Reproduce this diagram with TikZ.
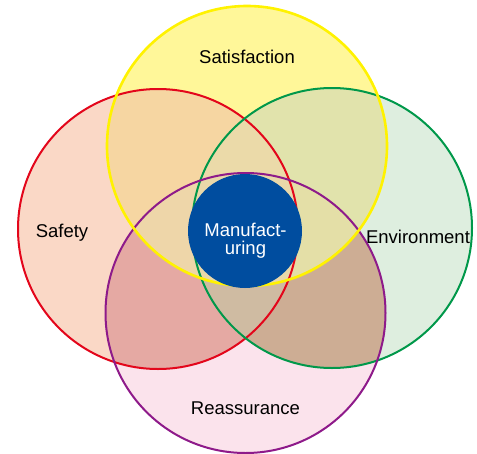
\documentclass[tikz,border=0pt]{standalone}
\usepackage{fontspec}
\setmainfont{Liberation Sans}
\usetikzlibrary{positioning}
% single regions
\definecolor{satisfactionfill}{HTML}{FFF799}
\definecolor{safetyfill}{HTML}{FAD8C6}
\definecolor{environmentfill}{HTML}{DEEEDF}
\definecolor{reassurancefill}{HTML}{FBE3EC}
% overlaps
\definecolor{satsafefill}{HTML}{F6D6A2}
\definecolor{satenvfill}{HTML}{E1E3AC}
\definecolor{satreafill}{HTML}{EED6A8}
\definecolor{safeenvfill}{HTML}{EBDAA9}
\definecolor{safereafill}{HTML}{E5A9A3}
\definecolor{envreafill}{HTML}{CDAD94}
\definecolor{satsafeenvfill}{HTML}{EBDAA9}
\definecolor{satsafereafill}{HTML}{EED6A9}
\definecolor{satenvreafill}{HTML}{E4DFA7}
\definecolor{safeenvreafill}{HTML}{CFBBA2}
\definecolor{allfill}{HTML}{E9D8A9}
% rims
\definecolor{satisfactionline}{HTML}{FFF200}
\definecolor{safetyline}{HTML}{E3061B}
\definecolor{environmentline}{HTML}{00984A}
\definecolor{reassuranceline}{HTML}{8E1A8A}
\definecolor{hubfill}{HTML}{004D9F}
\newcommand{\vennr}{140}
\tikzset{
  label text/.style={font=\fontsize{18.5}{18}\selectfont, text=black, inner sep=0pt, anchor=base},
  ring/.style={line width=2pt},
}

\begin{document}
\begin{tikzpicture}[x=1pt, y=-1pt]
    \useasboundingbox (0,0) rectangle (477,453);

    % centres
    \coordinate (satisfaction) at (247,146);
    \coordinate (safety) at (158,229);
    \coordinate (environment) at (332,228);
    \coordinate (reassurance) at (245.5,313);
    \coordinate (hub) at (245,231);

    % Single circles
    \foreach \c in {safety, environment, reassurance, satisfaction}
        \fill[\c fill] (\c) circle[radius=\vennr];

    % Pairs
    \foreach \a/\b/\f in {satisfaction/safety/satsafe, satisfaction/environment/satenv,
                          satisfaction/reassurance/satrea, safety/environment/safeenv,
                          safety/reassurance/saferea, environment/reassurance/envrea} {
        \begin{scope}
            \clip (\a) circle[radius=\vennr];
            \fill[\f fill] (\b) circle[radius=\vennr];
        \end{scope}
    }

    % Triples
    \foreach \a/\b/\c/\f in {satisfaction/safety/environment/satsafeenv,
                             satisfaction/safety/reassurance/satsaferea,
                             satisfaction/environment/reassurance/satenvrea,
                             safety/environment/reassurance/safeenvrea} {
        \begin{scope}
            \clip (\a) circle[radius=\vennr];
            \clip (\b) circle[radius=\vennr];
            \fill[\f fill] (\c) circle[radius=\vennr];
        \end{scope}
    }

    % All four
    \begin{scope}
        \clip (satisfaction) circle[radius=\vennr];
        \clip (safety) circle[radius=\vennr];
        \clip (environment) circle[radius=\vennr];
        \fill[allfill] (reassurance) circle[radius=\vennr];
    \end{scope}

    % Rims
    \foreach \c in {safety, environment, reassurance}
        \draw[ring, \c line] (\c) circle[radius=\vennr];
    \draw[ring, line width=2.6pt, satisfactionline] (satisfaction) circle[radius=\vennr];

    % Centre
    \fill[hubfill] (hub) circle[radius=57];

    % Labels
    \node[label text] (satisfaction-text) at (247,63) {Satisfaction};
    \node[label text] (safety-text) at (62,237) {Safety};
    \node[label text] (environment-text) at (418,243) {Environment};
    \node[label text] (reassurance-text) at (245.5,414) {Reassurance};
    \node[label text, text=white, align=center] (hub-text) at (245.5,254) {Manufact-\\uring};
\end{tikzpicture}
\end{document}
